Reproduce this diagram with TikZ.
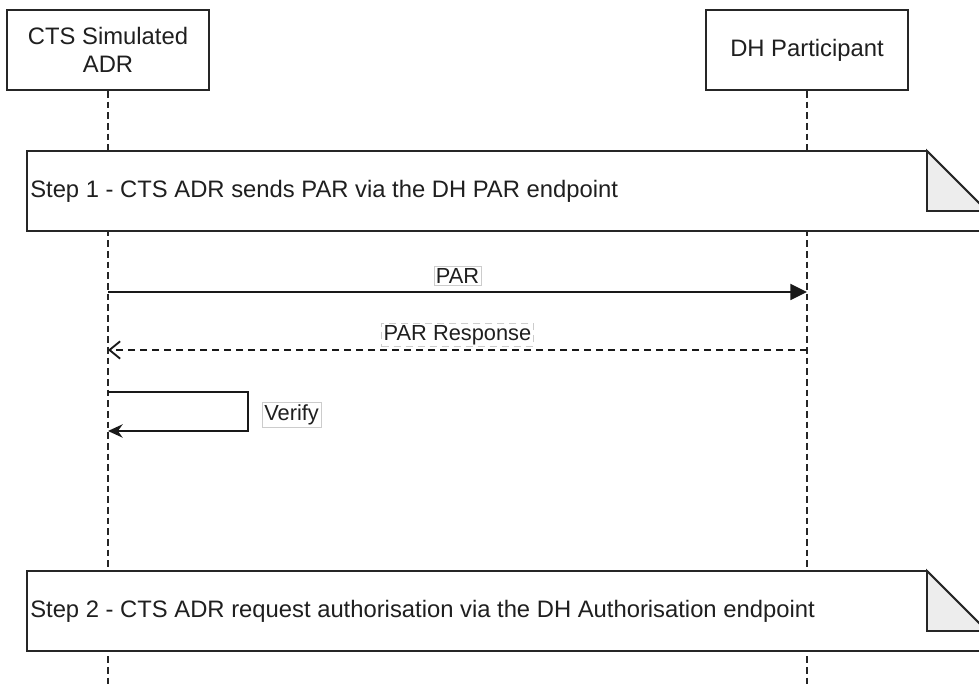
\documentclass[tikz,border=0pt]{standalone}
\usepackage{fontspec}
\setmainfont{Liberation Sans}
\usetikzlibrary{arrows.meta}
\begin{document}
\begin{tikzpicture}[x=0.75pt, y=-0.75pt,
    actor/.style={draw=black!85, line width=1.4pt, fill=white, minimum width=151.5pt,
        minimum height=60pt, align=center, text=black!88,
        font=\fontsize{17.85}{21.4}\selectfont},
    lifeline/.style={draw=black!85, line width=1.3pt, dash pattern=on 5pt off 3pt},
    notebox/.style={draw=black!85, line width=1.4pt, fill=white},
    notetext/.style={inner sep=0pt, anchor=west, text=black!88,
        font=\fontsize{17.85}{21.4}\selectfont},
    lbl/.style={draw=black!20, line width=0.5pt, fill=white, inner sep=1.5pt,
        text=black!88, font=\fontsize{16.36}{19}\selectfont},
    msg/.style={line width=1.4pt, draw=black!90}
]
    \useasboundingbox (0,0) rectangle (979,684);

    % Lifelines
    \node[actor] (adr) at (108,50) {CTS Simulated\\ADR};
    \node[actor] (dh) at (807,50) {DH Participant};
    \coordinate (adrEnd) at (108,690);
    \coordinate (dhEnd) at (807,690);
    \draw[lifeline] (adr.south) -- (adrEnd);
    \draw[lifeline] (dh.south) -- (dhEnd);

    % Step 1 note
    \draw[notebox] (27,151) -- (927,151) -- (987,211) -- (987,231) -- (27,231) -- cycle;
    \draw[notebox, fill=black!7] (927,151) -- (927,211) -- (987,211) -- cycle;
    \node[notetext] (step1) at (30,191) {Step 1 - CTS ADR sends PAR via the DH PAR endpoint};

    % Messages
    \coordinate (adrPar) at (108,292);
    \coordinate (dhPar) at (807,292);
    \draw[msg, -{Triangle[length=12.5pt, width=12pt]}] (adrPar) -- (dhPar)
        node[lbl, midway, anchor=south, yshift=4.5pt] (par) {PAR};
    \coordinate (dhResp) at (807,350);
    \coordinate (adrResp) at (108,350);
    \draw[msg, dash pattern=on 5.25pt off 3.75pt, -{Straight Barb[length=8pt, width=13pt]}]
        (dhResp) -- (adrResp)
        node[lbl, midway, anchor=south, yshift=2.3pt] (resp) {PAR Response};

    % Self call
    \coordinate (adrV1) at (108,392);
    \coordinate (adrV2) at (108,431);
    \draw[msg, -{Stealth[length=11pt, width=10pt]}] (adrV1) -- ++(140,0) |- (adrV2);
    \node[lbl, anchor=west] (verify) at (262,415) {Verify};

    % Step 2 note
    \draw[notebox] (27,571) -- (927,571) -- (987,631) -- (987,651) -- (27,651) -- cycle;
    \draw[notebox, fill=black!7] (927,571) -- (927,631) -- (987,631) -- cycle;
    \node[notetext] (step2) at (30,611) {Step 2 - CTS ADR request authorisation via the DH Authorisation endpoint};
\end{tikzpicture}
\end{document}
